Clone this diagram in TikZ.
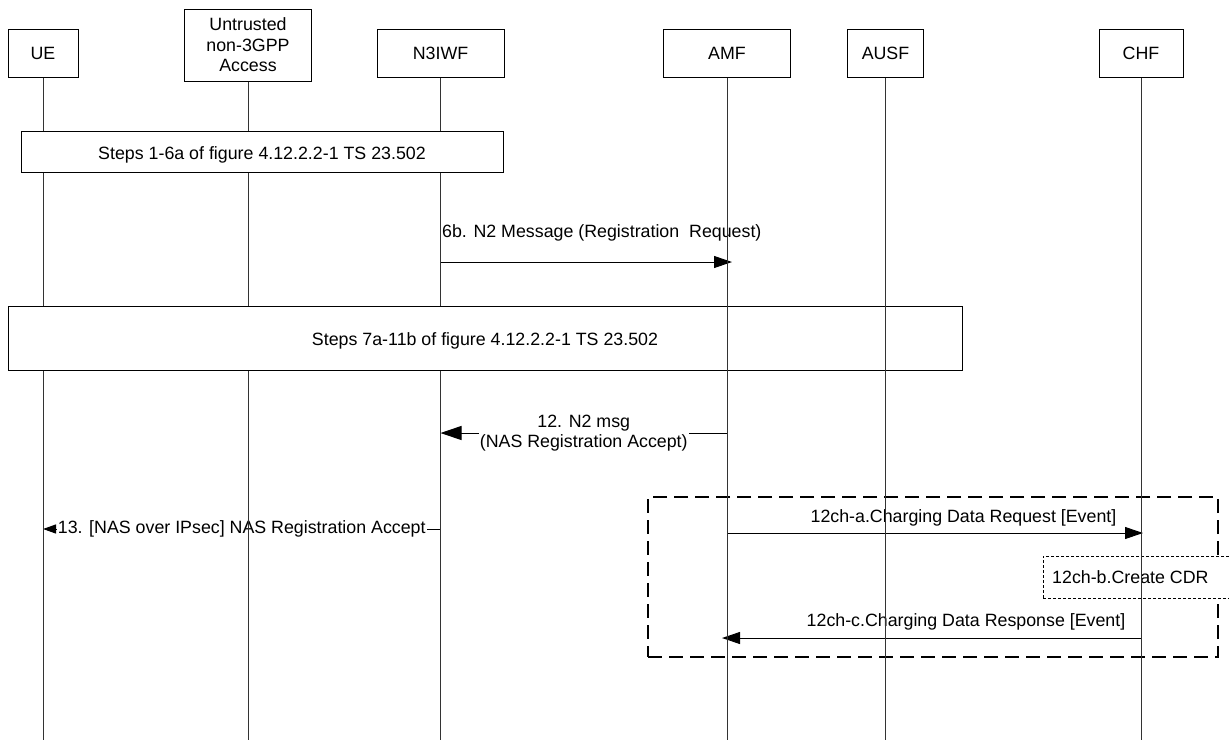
\documentclass[tikz,border=0pt]{standalone}
\usepackage{fontspec}
\setmainfont{Liberation Sans}
\usetikzlibrary{arrows.meta}
\begin{document}
\begin{tikzpicture}[x=1pt,y=-1pt,
  font=\fontsize{17.8}{20.5}\selectfont,
  entity/.style={draw, line width=1pt, minimum height=48pt, inner sep=0pt, align=center},
  life/.style={line width=1pt, black!80},
  msg/.style={line width=1pt, -{Triangle[length=18pt,width=12pt]}},
  stepbox/.style={draw, line width=1pt, inner sep=0pt},
  lbl/.style={inner sep=1pt},
  grpbox/.style={draw, dash pattern=on 14pt off 7pt, line width=1.6pt, inner sep=0pt},
  notebox/.style={draw, dash pattern=on 3pt off 2pt, line width=0.8pt, fill=white, inner sep=0pt}
]
\useasboundingbox (0,0) rectangle (1229,740);
\clip (0,0) rectangle (1229,740);

% entities
\node[entity, minimum width=70pt] (ue) at (43,53) {UE};
\node[entity, minimum width=127pt, minimum height=72pt] (an) at (248,45) {Untrusted\\non-3GPP\\Access};
\node[entity, minimum width=127pt] (n3iwf) at (440.5,53) {N3IWF};
\node[entity, minimum width=127pt] (amf) at (727,53) {AMF};
\node[entity, minimum width=76pt] (ausf) at (885.5,53) {AUSF};
\node[entity, minimum width=84pt] (chf) at (1141,53) {CHF};

% step boxes
\node[stepbox, minimum width=482pt, minimum height=41pt] (s1) at (262,151.5) {};
\node[lbl] (s1t) at (262,155) {Steps 1-6a of figure 4.12.2.2-1 TS 23.502};
\node[stepbox, minimum width=954pt, minimum height=64pt] (s7) at (485,338) {};
\node[lbl] (s7t) at (485,341) {Steps 7a-11b of figure 4.12.2.2-1 TS 23.502};

% group box and note
\node[grpbox, minimum width=570pt, minimum height=160pt] (grp) at (933,577) {};
\node[notebox, minimum width=197pt, minimum height=42pt] (cdr) at (1141.5,577) {};
\node[anchor=west, inner sep=0pt] (cdrt) at (1052,577) {12ch-b.Create CDR};

% messages
\draw[msg, shorten >=-5pt] (n3iwf.south |- 0,262) -- (amf.south |- 0,262);
\node[lbl, anchor=west] (l6b) at (441,233) {6b. N2 Message (Registration~~Request)};

\draw[line width=1pt, -{Triangle[length=21pt,width=14pt]}] (amf.south |- 0,433) --
  node[lbl, fill=white, align=center, font=\fontsize{17.8}{19.5}\selectfont] (l12) {12. N2 msg\\(NAS Registration Accept)}
  (n3iwf.south |- 0,433);

\draw[line width=1pt, -{Triangle[length=13pt,width=9pt]}] (n3iwf.south |- 0,529) --
  node[lbl, fill=white] (l13) {13. [NAS over IPsec] NAS Registration Accept}
  (ue.south |- 0,529);

\draw[msg, shorten >=-2pt] (amf.south |- 0,533) -- (chf.south |- 0,533);
\node[lbl] (lca) at (963.5,518) {12ch-a.Charging Data Request [Event]};

\draw[msg, shorten >=-5pt] (chf.south |- 0,638) -- (amf.south |- 0,638);
\node[lbl] (lcc) at (966,622) {12ch-c.Charging Data Response [Event]};

% lifelines
\foreach \e in {ue,an,n3iwf}{
  \draw[life] (\e.south) -- (\e.south |- s1.north);
  \draw[life] (\e.south |- s1.south) -- (\e.south |- s7.north);
  \draw[life] (\e.south |- s7.south) -- (\e.south |- 0,740);
}
\foreach \e in {amf,ausf,chf}{
  \draw[life] (\e.south) -- (\e.south |- 0,740);
}
\end{tikzpicture}
\end{document}
